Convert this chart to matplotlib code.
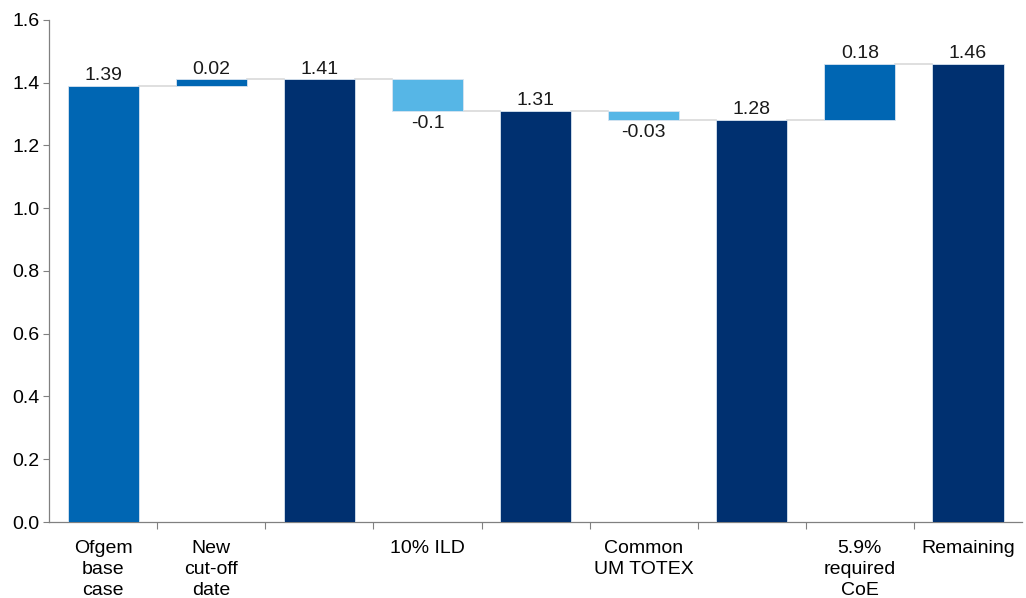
import numpy as np
import matplotlib.pyplot as plt

plt.rcParams['font.family'] = ['Liberation Sans', 'DejaVu Sans']

categories = ['Ofgem\nbase\ncase', 'New\ncut-off\ndate', '', '10% ILD', '',
              'Common\nUM TOTEX', '', '5.9%\nrequired\nCoE', 'Remaining']
values = [1.39, 0.02, 1.41, -0.1, 1.31, -0.03, 1.28, 0.18, 1.46]
kinds = ['base', 'delta', 'total', 'delta', 'total', 'delta', 'total', 'delta', 'total']

colors = {'base': '#0066B3', 'total': '#003070', 'up': '#0066B3', 'down': '#56B6E6'}
fs = 14

fig = plt.figure(figsize=(10.26, 5.98), dpi=100)
ax = fig.add_axes([0.048, 0.127, 0.948, 0.840])

x = np.arange(len(values))
width = 0.66
running = 0.0
tops = []
for i, (v, k) in enumerate(zip(values, kinds)):
    if k == 'delta':
        bottom = running if v >= 0 else running + v
        height = abs(v)
        c = colors['up'] if v >= 0 else colors['down']
        running += v
    else:
        bottom = 0
        height = v
        c = colors[k]
        running = v
    ax.bar(i, height, bottom=bottom, width=width, color=c,
           edgecolor='#D8E4F0', linewidth=0.6, zorder=3)
    lbl = f'{v:g}'
    if v >= 0:
        ax.text(i, bottom + height + 0.006, lbl, ha='center', va='bottom', fontsize=fs, color='#1a1a1a')
    else:
        ax.text(i, bottom - 0.012, lbl, ha='center', va='top', fontsize=fs, color='#1a1a1a')
    tops.append(running)

# connector lines
for i in range(len(values) - 1):
    ax.plot([i + width / 2, i + 1 - width / 2], [tops[i], tops[i]],
            color='#D9D9D9', linewidth=1.2, zorder=2)

ax.set_xlim(-0.5, len(values) - 0.5)
ax.set_ylim(0, 1.6)
ax.set_yticks(np.arange(0, 1.61, 0.2))
ax.set_yticklabels([f'{t:.1f}' for t in np.arange(0, 1.61, 0.2)], fontsize=fs)
ax.set_xticks(x)
ax.set_xticklabels(categories, fontsize=fs, va='top', linespacing=1.3)
ax.set_xticks(np.arange(0.5, len(values) - 0.5, 1), minor=True)
ax.tick_params(axis='x', which='major', length=0, pad=13)
ax.tick_params(axis='x', which='minor', length=5, color='#808080', width=0.8)
ax.tick_params(axis='y', length=4, color='#808080', width=0.8, pad=3)

for s in ['top', 'right']:
    ax.spines[s].set_visible(False)
for s in ['left', 'bottom']:
    ax.spines[s].set_color('#808080')
    ax.spines[s].set_linewidth(0.9)

fig.savefig('out.png', dpi=100, facecolor='white')
